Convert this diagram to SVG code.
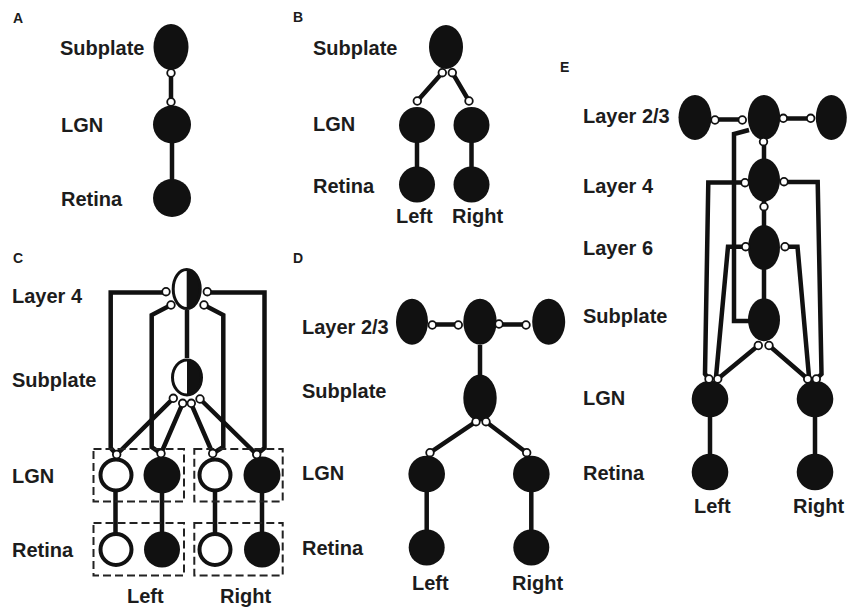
<svg xmlns="http://www.w3.org/2000/svg" width="850" height="609" viewBox="0 0 850 609">
<style>
.n{fill:#111}
.w{fill:#fff;stroke:#111;stroke-width:4}
.s{fill:#fff;stroke:#111;stroke-width:1.8}
.c{fill:none;stroke:#111;stroke-width:4.5;stroke-linejoin:miter}
.d{fill:none;stroke:#222;stroke-width:2;stroke-dasharray:8 4}
.t{font-family:"Liberation Sans",Arial,Helvetica,sans-serif;font-weight:bold;font-size:20px;fill:#1c1c1c}
.p{font-family:"Liberation Sans",Arial,Helvetica,sans-serif;font-weight:bold;font-size:14px;fill:#1c1c1c}
</style>
<rect width="850" height="609" fill="#fff"/>

<g id="labels">
<text class="p" x="13" y="23">A</text>
<text class="p" x="293" y="22">B</text>
<text class="p" x="13" y="263">C</text>
<text class="p" x="293" y="263">D</text>
<text class="p" x="560" y="72">E</text>

<text class="t" x="60" y="55">Subplate</text>
<text class="t" x="61" y="132">LGN</text>
<text class="t" x="61" y="206">Retina</text>

<text class="t" x="313" y="55">Subplate</text>
<text class="t" x="313" y="131">LGN</text>
<text class="t" x="313" y="193">Retina</text>
<text class="t" x="396" y="223">Left</text>
<text class="t" x="452" y="223">Right</text>

<text class="t" x="12" y="303">Layer 4</text>
<text class="t" x="12" y="387">Subplate</text>
<text class="t" x="12" y="483">LGN</text>
<text class="t" x="12" y="557">Retina</text>
<text class="t" x="127" y="603">Left</text>
<text class="t" x="220" y="603">Right</text>

<text class="t" x="302" y="334">Layer 2/3</text>
<text class="t" x="302" y="398">Subplate</text>
<text class="t" x="302" y="480">LGN</text>
<text class="t" x="302" y="555">Retina</text>
<text class="t" x="412" y="590">Left</text>
<text class="t" x="512" y="590">Right</text>

<text class="t" x="583" y="123">Layer 2/3</text>
<text class="t" x="583" y="193">Layer 4</text>
<text class="t" x="583" y="255">Layer 6</text>
<text class="t" x="583" y="323">Subplate</text>
<text class="t" x="583" y="405">LGN</text>
<text class="t" x="583" y="480">Retina</text>
<text class="t" x="694" y="513">Left</text>
<text class="t" x="793" y="513">Right</text>
</g>

<g id="connectors">
<!-- A -->
<path class="c" d="M171,73 L171,102 M172,124 L172,198"/>
<!-- B -->
<path class="c" d="M442.3,72.7 L417.3,101 M452.3,72.7 L469,101 M417,125 L417,184 M471.5,125 L471.5,184"/>
<!-- C -->
<path class="c" d="M166,292.5 L110.7,292.5 L110.7,448 L116.7,454.5"/>
<path class="c" d="M207.3,292.5 L264.5,292.5 L264.5,448 L256.7,454.5"/>
<path class="c" d="M171,305 L151.7,315 L151.7,447 L161,453.5"/>
<path class="c" d="M204,305 L223.3,315 L223.3,447 L212.7,453.5"/>
<path class="c" d="M187,310 L187,358"/>
<path class="c" d="M173.3,398.3 L116.7,454.5 M182.7,403.3 L161,453.5 M191,403.3 L212.7,453.5 M200,399 L256.7,454.5"/>
<path class="c" d="M115.5,492 L115.5,533 M162,475 L162,549.5 M215,492 L215,533 M262,475 L262,549.5"/>
<rect class="d" x="93.5" y="449" width="90.5" height="52.5"/>
<rect class="d" x="93.5" y="523" width="90.5" height="52.5"/>
<rect class="d" x="194.3" y="449" width="88.4" height="52.5"/>
<rect class="d" x="194.3" y="523" width="88.4" height="52.5"/>
<!-- D -->
<path class="c" d="M432.3,324.5 L458.3,324.5 M499,324.5 L526,324.5 M480,345 L480,375 M476,421.7 L430,452.7 M486,421.7 L526.7,452.7 M426.7,474 L426.7,547.5 M531.3,474 L531.3,547.5"/>
<!-- E -->
<path class="c" d="M715,119.5 L742.3,119.5 M783.3,118.5 L810.7,118.5 M764,117 L764,320"/>
<path class="c" d="M749,130 L734,134 L734,321 L750,321"/>
<path class="c" d="M745,182.5 L708.3,182.5 L705,374 L709,379"/>
<path class="c" d="M784,182 L817.7,182 L821.5,374 L816.3,379"/>
<path class="c" d="M745.7,246.7 L728,246.7 L716,377"/>
<path class="c" d="M785,246.7 L797.5,246.7 L809,377"/>
<path class="c" d="M758.3,345.5 L717.7,379 M769,345.5 L807.7,379 M710,399 L710,472 M815,399 L815,472"/>
</g>

<g id="A-subplate"><ellipse class="n" cx="171" cy="47" rx="17.5" ry="23"/></g>
<g id="A-lgn"><circle class="n" cx="172" cy="124.5" r="19"/></g>
<g id="A-retina"><circle class="n" cx="172" cy="198" r="19"/></g>

<g id="B-subplate"><ellipse class="n" cx="446" cy="47" rx="17" ry="22"/></g>
<g id="B-lgn-left"><circle class="n" cx="417" cy="125" r="18"/></g>
<g id="B-lgn-right"><circle class="n" cx="471.5" cy="125" r="18"/></g>
<g id="B-retina-left"><circle class="n" cx="417" cy="184.5" r="18"/></g>
<g id="B-retina-right"><circle class="n" cx="471.5" cy="184.5" r="18"/></g>

<g id="C-layer4">
<ellipse cx="186.7" cy="289" rx="13.5" ry="19.5" fill="#fff"/>
<path class="n" d="M186.7,269.5 A13.5,19.5 0 0 1 186.7,308.5 Z"/>
<ellipse cx="186.7" cy="289" rx="13.5" ry="19.5" fill="none" stroke="#111" stroke-width="3"/>
</g>
<g id="C-subplate">
<ellipse cx="187" cy="377.5" rx="14.5" ry="17.5" fill="#fff"/>
<path class="n" d="M187,360 A14.5,17.5 0 0 1 187,395 Z"/>
<ellipse cx="187" cy="377.5" rx="14.5" ry="17.5" fill="none" stroke="#111" stroke-width="3"/>
</g>
<g id="C-lgn-left-white"><circle class="w" cx="116" cy="475" r="15.5"/></g>
<g id="C-lgn-left-black"><circle class="n" cx="162" cy="475" r="18.5"/></g>
<g id="C-lgn-right-white"><circle class="w" cx="215" cy="475" r="15.5"/></g>
<g id="C-lgn-right-black"><circle class="n" cx="262" cy="475" r="18.5"/></g>
<g id="C-retina-left-white"><circle class="w" cx="116" cy="549.5" r="15.5"/></g>
<g id="C-retina-left-black"><circle class="n" cx="162" cy="549.5" r="18"/></g>
<g id="C-retina-right-white"><circle class="w" cx="215" cy="549.5" r="15.5"/></g>
<g id="C-retina-right-black"><circle class="n" cx="262" cy="549.5" r="18"/></g>

<g id="D-layer23-left"><ellipse class="n" cx="412" cy="321.7" rx="16" ry="23"/></g>
<g id="D-layer23-center"><ellipse class="n" cx="480" cy="321.7" rx="16.7" ry="23"/></g>
<g id="D-layer23-right"><ellipse class="n" cx="548.7" cy="321.7" rx="16.5" ry="23"/></g>
<g id="D-subplate"><ellipse class="n" cx="480" cy="398" rx="16.7" ry="23.5"/></g>
<g id="D-lgn-left"><circle class="n" cx="426.7" cy="474" r="18.3"/></g>
<g id="D-lgn-right"><circle class="n" cx="531.3" cy="474" r="18.3"/></g>
<g id="D-retina-left"><circle class="n" cx="426.7" cy="547.5" r="18"/></g>
<g id="D-retina-right"><circle class="n" cx="531.3" cy="547.5" r="18"/></g>

<g id="E-layer23-left"><ellipse class="n" cx="695" cy="117.5" rx="16.5" ry="22.5"/></g>
<g id="E-layer23-center"><ellipse class="n" cx="764" cy="117.5" rx="16.2" ry="22.5"/></g>
<g id="E-layer23-right"><ellipse class="n" cx="831.3" cy="117.5" rx="15.5" ry="22.5"/></g>
<g id="E-layer4"><ellipse class="n" cx="764" cy="180" rx="16" ry="21.7"/></g>
<g id="E-layer6"><ellipse class="n" cx="764" cy="247.5" rx="16" ry="22.5"/></g>
<g id="E-subplate"><ellipse class="n" cx="764" cy="319.7" rx="16" ry="21.5"/></g>
<g id="E-lgn-left"><circle class="n" cx="710" cy="399" r="18.3"/></g>
<g id="E-lgn-right"><circle class="n" cx="815" cy="399" r="18.3"/></g>
<g id="E-retina-left"><circle class="n" cx="710" cy="472" r="18.3"/></g>
<g id="E-retina-right"><circle class="n" cx="815" cy="472" r="18.3"/></g>

<g id="synapses">
<circle class="s" cx="171" cy="73" r="3.8"/>
<circle class="s" cx="171" cy="102" r="3.8"/>

<circle class="s" cx="442.3" cy="72.7" r="3.8"/>
<circle class="s" cx="452.3" cy="72.7" r="3.8"/>
<circle class="s" cx="417.3" cy="101" r="3.8"/>
<circle class="s" cx="469" cy="101" r="3.8"/>

<circle class="s" cx="166" cy="291.7" r="3.8"/>
<circle class="s" cx="207.3" cy="291.7" r="3.8"/>
<circle class="s" cx="171" cy="305" r="3.8"/>
<circle class="s" cx="204" cy="305" r="3.8"/>
<circle class="s" cx="173.3" cy="398.3" r="3.8"/>
<circle class="s" cx="182.7" cy="403.3" r="3.8"/>
<circle class="s" cx="191.3" cy="403.3" r="3.8"/>
<circle class="s" cx="200" cy="399" r="3.8"/>
<circle class="s" cx="116.7" cy="454.5" r="3.8"/>
<circle class="s" cx="161" cy="453.5" r="3.8"/>
<circle class="s" cx="212.7" cy="453.5" r="3.8"/>
<circle class="s" cx="256.7" cy="454.5" r="3.8"/>

<circle class="s" cx="432.3" cy="325" r="3.8"/>
<circle class="s" cx="458.3" cy="325" r="3.8"/>
<circle class="s" cx="499" cy="324" r="3.8"/>
<circle class="s" cx="526" cy="325" r="3.8"/>
<circle class="s" cx="476" cy="421.7" r="3.8"/>
<circle class="s" cx="486" cy="421.7" r="3.8"/>
<circle class="s" cx="430" cy="452.7" r="3.8"/>
<circle class="s" cx="526.7" cy="452.7" r="3.8"/>

<circle class="s" cx="715" cy="120" r="3.8"/>
<circle class="s" cx="742.3" cy="120" r="3.8"/>
<circle class="s" cx="783.3" cy="118.3" r="3.8"/>
<circle class="s" cx="810.7" cy="118.3" r="3.8"/>
<circle class="s" cx="763.5" cy="141.7" r="3.8"/>
<circle class="s" cx="745" cy="182.7" r="3.8"/>
<circle class="s" cx="784" cy="181.7" r="3.8"/>
<circle class="s" cx="764" cy="206.7" r="3.8"/>
<circle class="s" cx="745.7" cy="246.7" r="3.8"/>
<circle class="s" cx="785" cy="246.7" r="3.8"/>
<circle class="s" cx="758.3" cy="345.5" r="3.8"/>
<circle class="s" cx="769" cy="345.5" r="3.8"/>
<circle class="s" cx="709" cy="379" r="3.8"/>
<circle class="s" cx="717.7" cy="379" r="3.8"/>
<circle class="s" cx="807.7" cy="379" r="3.8"/>
<circle class="s" cx="816.3" cy="379" r="3.8"/>
</g>
</svg>
